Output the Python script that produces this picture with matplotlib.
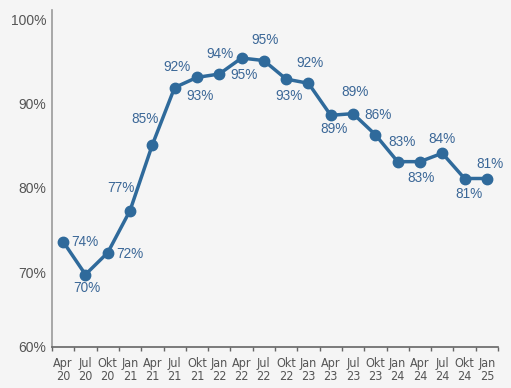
import matplotlib
matplotlib.use("Agg")
import matplotlib.pyplot as plt
from matplotlib import font_manager

months = ["Apr", "Jul", "Okt", "Jan", "Apr", "Jul", "Okt", "Jan", "Apr", "Jul",
          "Okt", "Jan", "Apr", "Jul", "Okt", "Jan", "Apr", "Jul", "Okt", "Jan"]
years = ["20", "20", "20", "21", "21", "21", "21", "22", "22", "22",
         "22", "23", "23", "23", "23", "24", "24", "24", "24", "25"]
values = [73.6, 69.7, 72.3, 77.3, 85.1, 91.9, 93.1, 93.5, 95.4, 95.1,
          92.9, 92.4, 88.6, 88.8, 86.3, 83.1, 83.1, 84.1, 81.1, 81.1]
labels = ["74%", "70%", "72%", "77%", "85%", "92%", "93%", "94%", "95%", "95%",
          "93%", "92%", "89%", "89%", "86%", "83%", "83%", "84%", "81%", "81%"]
# label offsets in pixels (dx, dy; dy positive = up)
offsets = [(22, 0), (1, -13), (22, -1), (-9, 23), (-7, 26), (2, 21), (3, -19), (1, 20),
           (3, -17), (1, 21), (3, -17), (2, 20), (3, -14), (2, 22), (3, 20), (4, 20),
           (1, -16), (0, 14), (4, -15), (3, 14)]

bg = "#f5f5f5"
blue = "#2f6a9b"
label_blue = "#3b6797"
gray = "#555555"

plt.rcParams["font.family"] = ["Liberation Sans", "DejaVu Sans"]

condensed = [f for f in font_manager.fontManager.ttflist
             if f.name == "DejaVu Sans" and f.stretch == "condensed"
             and f.style == "normal" and f.weight in (400, "normal", "book")]
if condensed:
    xfont = dict(fontproperties=font_manager.FontProperties(fname=condensed[0].fname, size=9.0))
else:
    xfont = dict(family="Liberation Sans", fontsize=8.8)

fig = plt.figure(figsize=(5.11, 3.88), dpi=100, facecolor=bg)
ax = fig.add_axes([52 / 511, 41 / 388, 446 / 511, 337 / 388], facecolor=bg)

x = list(range(len(values)))
ax.plot(x, values, color=blue, lw=2.5, marker="o", markersize=7.5, zorder=3)

px = 72 / 100
for xi, v, lab, (dx, dy) in zip(x, values, labels, offsets):
    ax.annotate(lab, (xi, v), xytext=(dx * px, dy * px), textcoords="offset points",
                ha="center", va="center", fontsize=9.8, color=label_blue,
                family="Liberation Sans")

ax.set_xlim(-0.5, len(values) - 0.5)
ax.set_ylim(61.1, 101.1)

ax.set_yticks([61.1, 70, 80, 90, 100])
ax.set_yticklabels(["60%", "70%", "80%", "90%", "100%"], fontsize=10, color=gray,
                   family="Liberation Sans")
ax.tick_params(axis="y", length=0, pad=4)

ax.set_xticks(x)
ax.set_xticklabels([f"{m}\n{y}" for m, y in zip(months, years)], color=gray,
                   linespacing=1.0, **xfont)
ax.tick_params(axis="x", which="major", length=0, pad=7)
ax.set_xticks([i - 0.5 for i in range(len(values) + 1)], minor=True)
ax.tick_params(axis="x", which="minor", length=3, width=1, color="#666666", direction="out")

for s in ["top", "right"]:
    ax.spines[s].set_visible(False)
ax.spines["left"].set_color("#9a9a9a")
ax.spines["left"].set_linewidth(1.2)
ax.spines["bottom"].set_color("#666666")
ax.spines["bottom"].set_linewidth(1.2)

fig.savefig("out.png", dpi=100, facecolor=bg)
